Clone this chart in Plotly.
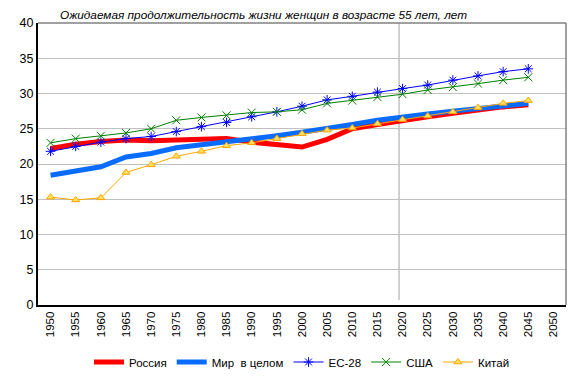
import plotly.graph_objects as go

years = [1950, 1955, 1960, 1965, 1970, 1975, 1980, 1985, 1990, 1995, 2000,
         2005, 2010, 2015, 2020, 2025, 2030, 2035, 2040, 2045]
russia = [22.2, 22.8, 23.2, 23.4, 23.3, 23.4, 23.5, 23.6, 23.1, 22.7, 22.4,
          23.5, 25.0, 25.6, 26.2, 26.7, 27.2, 27.7, 28.1, 28.4]
world = [18.4, 19.0, 19.6, 21.0, 21.5, 22.3, 22.7, 23.2, 23.6, 24.0, 24.5,
         25.0, 25.6, 26.2, 26.7, 27.1, 27.5, 27.9, 28.3, 28.6]
eu28 = [21.8, 22.5, 23.1, 23.6, 23.9, 24.6, 25.3, 25.9, 26.7, 27.4, 28.2,
        29.1, 29.6, 30.2, 30.7, 31.2, 31.9, 32.5, 33.1, 33.5]
usa = [23.0, 23.6, 24.0, 24.4, 25.0, 26.2, 26.6, 26.9, 27.3, 27.4, 27.7,
       28.6, 29.0, 29.5, 29.9, 30.5, 30.9, 31.4, 31.9, 32.3]
china = [15.3, 14.9, 15.2, 18.8, 19.9, 21.1, 21.8, 22.6, 23.0, 23.6, 24.3,
         24.8, 25.1, 25.7, 26.3, 26.8, 27.4, 28.0, 28.6, 29.0]
tick_years = list(range(1950, 2051, 5))
y_ticks = [0, 5, 10, 15, 20, 25, 30, 35, 40]
title = "Ожидаемая продолжительность жизни женщин в возрасте 55 лет, лет"

W, H = 572, 368

fig = go.Figure()
fig.add_trace(go.Scatter(x=years, y=russia, name="Россия", mode="lines",
                         line=dict(color="#FF0000", width=5)))
fig.add_trace(go.Scatter(x=years, y=world, name="Мир  в целом", mode="lines",
                         line=dict(color="#0A6CFF", width=5)))
fig.add_trace(go.Scatter(x=years, y=eu28, name="ЕС-28", mode="lines+markers",
                         line=dict(color="#0000FF", width=1),
                         marker=dict(symbol="asterisk-open", size=8,
                                     line=dict(color="#0000FF", width=1))))
fig.add_trace(go.Scatter(x=years, y=usa, name="США", mode="lines+markers",
                         line=dict(color="#008000", width=1),
                         marker=dict(symbol="x-thin-open", size=8,
                                     line=dict(color="#008000", width=1))))
fig.add_trace(go.Scatter(x=years, y=china, name="Китай", mode="lines+markers",
                         line=dict(color="#FFA500", width=1),
                         marker=dict(symbol="triangle-up", size=7, color="#FFE060",
                                     line=dict(color="#FFA500", width=1))))

fig.add_shape(type="line", xref="x", yref="y", x0=2019.3, x1=2019.3, y0=0.7, y1=40,
              line=dict(color="#C0C0C0", width=1.5), layer="below")
fig.add_shape(type="line", xref="paper", yref="paper", x0=0, x1=1, y0=1, y1=1,
              line=dict(color="#808080", width=1.5))
fig.add_shape(type="line", xref="paper", yref="paper", x0=1, x1=1, y0=0, y1=1,
              line=dict(color="#808080", width=1.5))

fig.update_layout(
    width=W, height=H,
    margin=dict(l=30, r=14, t=15, b=71, autoexpand=False),
    paper_bgcolor="white", plot_bgcolor="white",
    font=dict(family="Liberation Sans, Arial, sans-serif", size=12, color="black"),
    title=dict(text="<i>" + title + "</i>", x=52 / W, xanchor="left",
               y=1 - 7 / H, yanchor="middle",
               font=dict(size=11.8, color="black")),
    xaxis=dict(range=[1947.5, 2052.5], tickmode="array", tickvals=tick_years,
               ticktext=[str(t) for t in tick_years], tickangle=-90,
               showgrid=False, zeroline=False, showline=True, linecolor="black",
               linewidth=2, ticks="", tickfont=dict(size=11.5), automargin=False),
    yaxis=dict(range=[0, 40], tickmode="array", tickvals=y_ticks,
               showgrid=True, gridcolor="#C0C0C0", gridwidth=1.2, zeroline=False,
               showline=True, linecolor="black", linewidth=2, ticks="",
               tickfont=dict(size=12.5), automargin=False),
    legend=dict(orientation="h", x=0.5, xanchor="center",
                yref="container", y=14 / H, yanchor="middle",
                font=dict(size=11.5), itemwidth=30, tracegroupgap=0,
                bgcolor="rgba(0,0,0,0)"),
    showlegend=True,
)

fig.write_html("out.html")
